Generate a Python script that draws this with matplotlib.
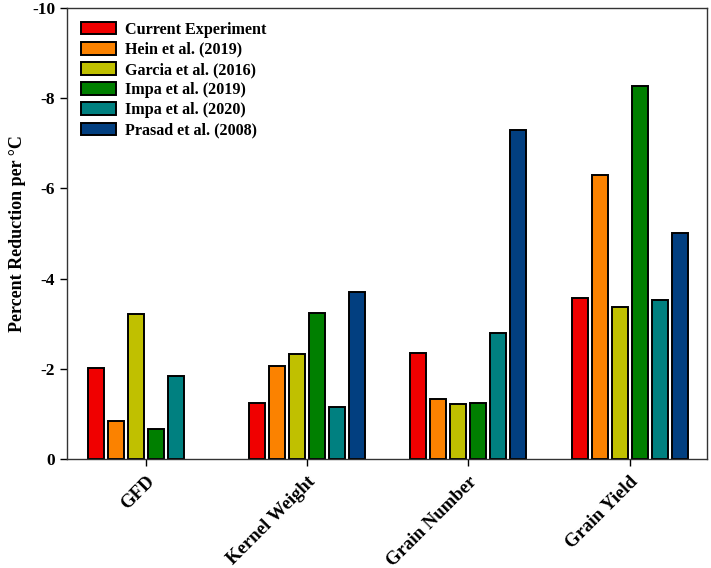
import matplotlib
matplotlib.use("Agg")
import matplotlib.pyplot as plt
import numpy as np

categories = ["GFD", "Kernel Weight", "Grain Number", "Grain Yield"]
series_names = ["Current Experiment", "Hein et al. (2019)", "Garcia et al. (2016)",
                "Impa et al. (2019)", "Impa et al. (2020)", "Prasad et al. (2008)"]
current = [-2.02, -1.24, -2.36, -3.58]
hein = [-0.84, -2.07, -1.34, -6.30]
garcia = [-3.22, -2.32, -1.22, -3.38]
impa2019 = [-0.66, -3.24, -1.24, -8.26]
impa2020 = [-1.84, -1.16, -2.80, -3.52]
prasad = [np.nan, -3.71, -7.30, -5.00]
colors = ["#f00000", "#fb8200", "#c0c000", "#007f00", "#008080", "#023f80"]

plt.rcParams['font.family'] = ['Liberation Serif', 'DejaVu Serif']
plt.rcParams['font.weight'] = 'bold'

fig = plt.figure(figsize=(7.11, 5.68), dpi=100)
ax = fig.add_axes([0.0942, 0.1919, 0.9002, 0.7941])

data = [current, hein, garcia, impa2019, impa2020, prasad]
x = np.arange(len(categories))
slot = 0.124
bw = 0.10
for i, (vals, name, c) in enumerate(zip(data, series_names, colors)):
    ax.bar(x + (i - 2.5) * slot, vals, width=bw, color=c, edgecolor='black',
           linewidth=1.4, label=name)

ax.set_xlim(-0.49, 3.48)
ax.set_ylim(0, -10)
ax.set_yticks([0, -2, -4, -6, -8, -10])
ax.set_yticklabels(["0", "-2", "-4", "-6", "-8", "-10"], fontsize=12.5, fontweight='bold')
ax.set_xticks(x)
ax.set_xticklabels(categories, rotation=45, ha='right', rotation_mode='anchor',
                   fontsize=13.5, fontweight='bold')
ax.tick_params(axis='both', direction='out', length=5, width=1)
ax.tick_params(axis='x', pad=5)
for s in ax.spines.values():
    s.set_linewidth(1.0)
    s.set_color('#333333')
ax.set_ylabel("Percent Reduction per °C", fontsize=13, fontweight='bold')

leg = ax.legend(loc='upper left', frameon=False,
                handlelength=2.2, handleheight=0.85, labelspacing=0.26,
                borderaxespad=0.4, borderpad=0.45, handletextpad=0.55,
                prop={'weight': 'bold', 'size': 11.6})

fig.savefig("out.png", dpi=100)
